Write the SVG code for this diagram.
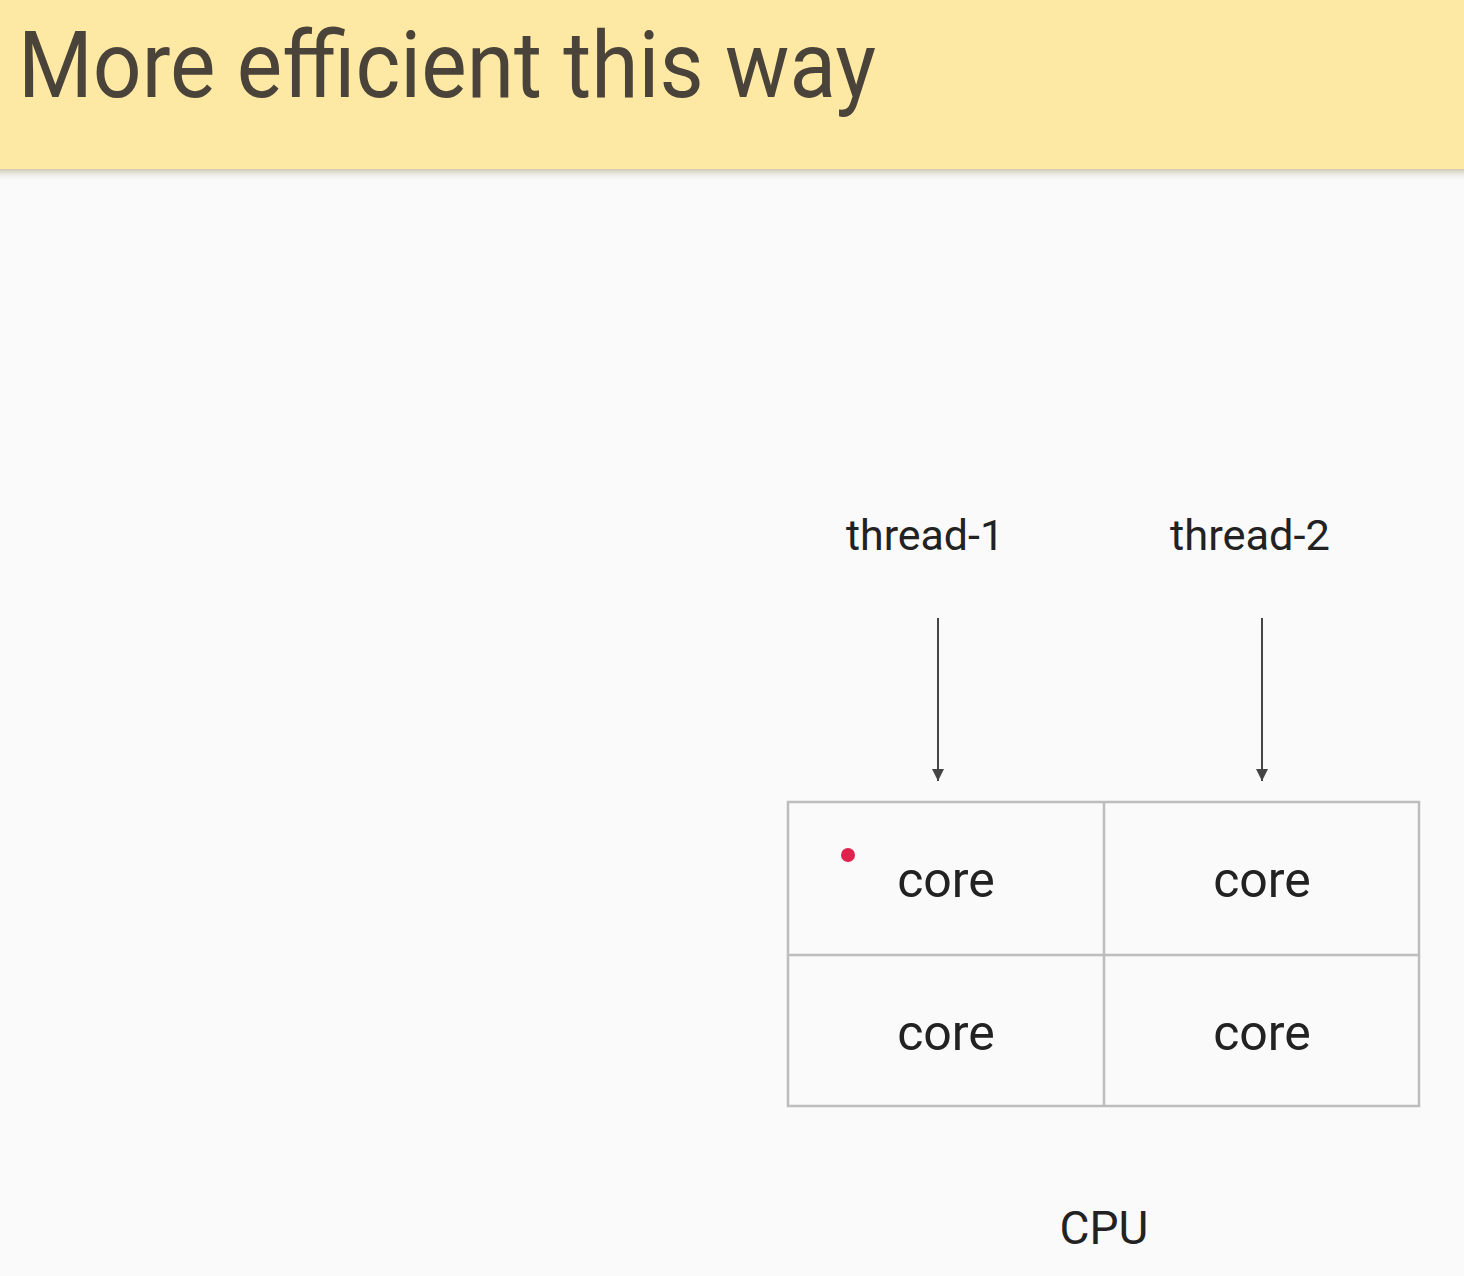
<svg xmlns="http://www.w3.org/2000/svg" width="1464" height="1276" viewBox="0 0 1464 1276">
<defs>
<style>
.lbl{font-family:Roboto,"Liberation Sans",sans-serif;fill:#222;}
.cell{fill:none;stroke:#bdbdbd;stroke-width:2.5;}
.conn{stroke:#444;stroke-width:2;fill:none;}
</style>
<marker id="arr" viewBox="0 0 10 10" refX="10" refY="5" markerWidth="14" markerHeight="12" markerUnits="userSpaceOnUse" orient="auto"><path d="M0,0 L10,5 L0,10 z" fill="#444"/></marker>
<linearGradient id="shadow" x1="0" y1="0" x2="0" y2="1"><stop offset="0" stop-color="#c9c2a8"/><stop offset="1" stop-color="#fafafa" stop-opacity="0"/></linearGradient>
</defs>
<rect width="1464" height="1276" fill="#fafafa"/>
<g id="header">
<rect x="0" y="168" width="1464" height="14" fill="url(#shadow)"/>
<rect x="0" y="0" width="1464" height="169" fill="#fde8a4"/>
<text x="18" y="97" font-family="Roboto,'Liberation Sans',sans-serif" font-size="92" fill="#4a4339" textLength="858" lengthAdjust="spacingAndGlyphs">More efficient this way</text>
</g>
<g id="thread-1"><text class="lbl" x="925" y="550" font-size="42" text-anchor="middle" textLength="158" lengthAdjust="spacingAndGlyphs">thread-1</text></g>
<g id="thread-2"><text class="lbl" x="1250" y="550" font-size="42" text-anchor="middle" textLength="160" lengthAdjust="spacingAndGlyphs">thread-2</text></g>
<g id="connectors">
<line class="conn" x1="938" y1="618" x2="938" y2="781" marker-end="url(#arr)"/>
<line class="conn" x1="1262" y1="618" x2="1262" y2="781" marker-end="url(#arr)"/>
</g>
<g id="cpu">
<rect class="cell" x="788" y="802" width="631" height="304"/>
<line class="cell" x1="1104" y1="802" x2="1104" y2="1106"/>
<line class="cell" x1="788" y1="955" x2="1419" y2="955"/>
</g>
<g id="core-1"><text class="lbl" x="946" y="897" font-size="50" text-anchor="middle">core</text><circle cx="848" cy="855" r="7" fill="#e0234c"/></g>
<g id="core-2"><text class="lbl" x="1262" y="897" font-size="50" text-anchor="middle">core</text></g>
<g id="core-3"><text class="lbl" x="946" y="1050" font-size="50" text-anchor="middle">core</text></g>
<g id="core-4"><text class="lbl" x="1262" y="1050" font-size="50" text-anchor="middle">core</text></g>
<g id="cpu-label"><text class="lbl" x="1104" y="1244" font-size="46" text-anchor="middle">CPU</text></g>
</svg>
